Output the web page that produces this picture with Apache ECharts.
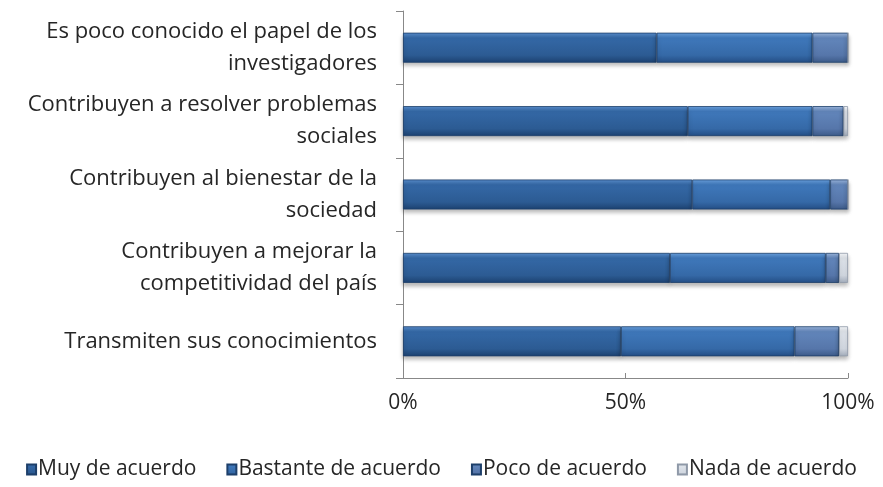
<!DOCTYPE html>
<html>
<head>
<meta charset="utf-8">
<script src="https://cdn.jsdelivr.net/npm/echarts@6/dist/echarts.min.js"></script>
<style>
  html, body { margin: 0; padding: 0; background: #fff; }
  #chart { width: 883px; height: 487px; }
</style>
</head>
<body>
<div id="chart"></div>
<script>
const categories = [
  'Es poco conocido el papel de los\ninvestigadores',
  'Contribuyen a resolver problemas\nsociales',
  'Contribuyen al bienestar de la\nsociedad',
  'Contribuyen a mejorar la\ncompetitividad del país',
  'Transmiten sus conocimientos'
]
const seriesNames = ['Muy de acuerdo', 'Bastante de acuerdo', 'Poco de acuerdo', 'Nada de acuerdo']
const muyDeAcuerdo = [57, 64, 65, 60, 49]
const bastanteDeAcuerdo = [35, 28, 31, 35, 39]
const pocoDeAcuerdo = [8, 7, 4, 3, 10]
const nadaDeAcuerdo = [0, 1, 0, 2, 2]
const xTicks = [0, 50, 100]

// bevel-ish vertical gradients, light top edge to dark bottom edge
const shades = [
  ['#5a8fce', '#3468a6', '#2c5b93', '#1c4170'],
  ['#6aa2e0', '#3f78bb', '#3569a7', '#234d84'],
  ['#9db8df', '#6286bb', '#5676aa', '#3c5a88'],
  ['#f7f9fb', '#dfe4eb', '#d2d8e1', '#a4aebd']
]
function grad(c) {
  return new echarts.graphic.LinearGradient(0, 0, 0, 1, [
    { offset: 0, color: c[0] },
    { offset: 0.18, color: c[1] },
    { offset: 0.75, color: c[2] },
    { offset: 1, color: c[3] }
  ])
}

const values = [muyDeAcuerdo, bastanteDeAcuerdo, pocoDeAcuerdo, nadaDeAcuerdo]
const font = '"Open Sans", "Noto Sans", sans-serif'

const chart = echarts.init(document.getElementById('chart'))
chart.setOption({
  animation: false,
  grid: { left: 403, right: 35, top: 11, bottom: 109, containLabel: false },
  legend: {
    bottom: 2,
    left: 'center',
    icon: 'rect',
    itemWidth: 9,
    itemHeight: 10,
    itemGap: 30,
    textStyle: { fontFamily: font, fontSize: 21, color: '#262626', padding: [0, 0, 0, -3] },
    data: seriesNames
  },
  xAxis: {
    type: 'value',
    min: 0,
    max: 100,
    interval: 50,
    axisLine: { show: true, lineStyle: { color: '#888', width: 1 } },
    axisTick: { show: true, inside: true, length: 5, lineStyle: { color: '#888' } },
    splitLine: { show: false },
    axisLabel: {
      margin: 15,
      fontFamily: font,
      fontSize: 21,
      color: '#262626',
      formatter: v => (xTicks.includes(v) ? v + '%' : '')
    }
  },
  yAxis: {
    type: 'category',
    inverse: true,
    data: categories,
    axisLine: { show: true, lineStyle: { color: '#888', width: 1 } },
    axisTick: { show: true, length: 7, lineStyle: { color: '#888' } },
    axisLabel: {
      margin: 26,
      fontFamily: font,
      fontSize: 22,
      lineHeight: 32,
      color: '#262626',
      align: 'right'
    }
  },
  series: seriesNames.map((name, i) => ({
    name,
    type: 'bar',
    stack: 'total',
    barWidth: 30,
    data: values[i],
    itemStyle: {
      color: grad(shades[i]),
      borderColor: i === 3 ? '#8f99a8' : '#1d3f6a',
      borderWidth: 0.8,
      shadowColor: 'rgba(0,0,0,0.28)',
      shadowBlur: 4,
      shadowOffsetY: 3
    }
  }))
})
</script>
</body>
</html>
